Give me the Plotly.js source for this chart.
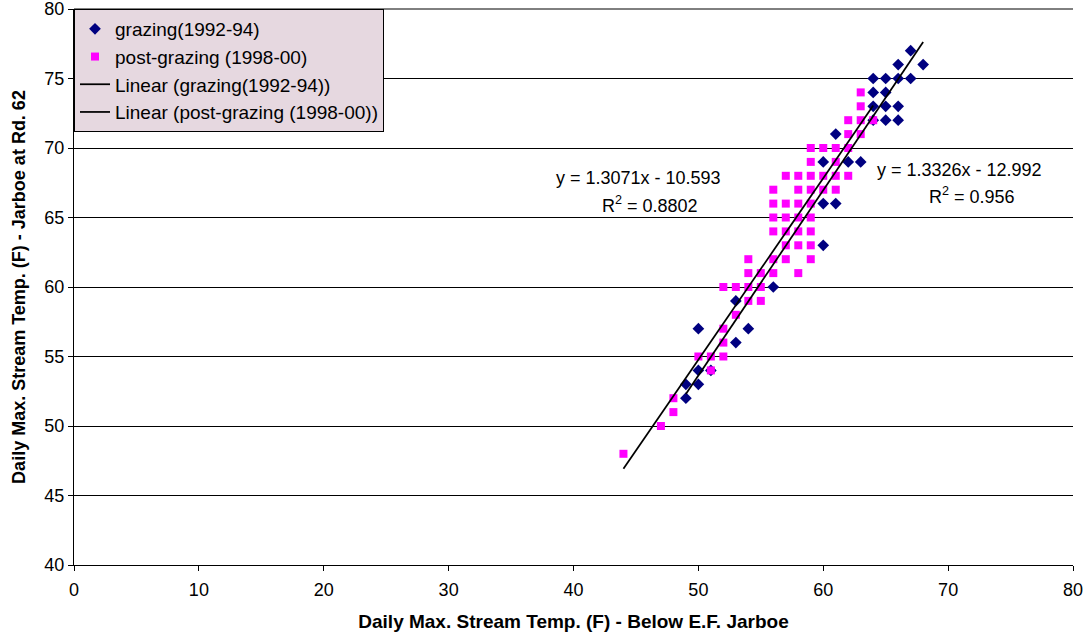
<!DOCTYPE html>
<html>
<head>
<meta charset="utf-8">
<script src="https://cdn.plot.ly/plotly-3.0.1.min.js"></script>
<style>html,body{margin:0;padding:0;background:#fff;}#chart{width:1083px;height:637px;}</style>
</head>
<body>
<div id="chart"></div>
<script>
// grazing (1992-94)
var grazingX = [49,49,50,50,50,51,53,53,54,56,60,60,61,60,62,63,61,64,65,66,64,65,66,64,65,64,65,66,67,66,68,67];
var grazingY = [52,53,53,54,57,54,56,59,57,60,63,66,66,69,69,69,71,72,72,72,73,73,73,74,74,75,75,75,75,76,76,77];
// post-grazing (1998-00)
var postX = [44,47,48,48,50,51,52,51,52,52,53,54,55,52,53,54,55,54,55,56,58,54,56,57,59,57,58,59,56,57,58,59,56,57,58,59,56,57,58,59,56,58,59,60,61,57,58,59,60,61,62,59,61,59,60,61,62,62,63,62,63,64,63,63];
var postY = [48,50,51,52,55,55,55,54,56,57,58,59,59,60,60,60,60,61,61,61,61,62,62,62,62,63,63,63,64,64,64,64,65,65,65,65,66,66,66,66,67,67,67,67,67,68,68,68,68,68,68,69,69,70,70,70,70,71,71,72,72,72,73,74];
// trendline coefficients (slope, intercept, R^2) as shown on the chart
var grazingFit = [1.3326, -12.992, 0.956];
var postFit = [1.3071, -10.593, 0.8802];
var names = ['grazing(1992-94)', 'post-grazing (1998-00)', 'Linear (grazing(1992-94))', 'Linear (post-grazing (1998-00))'];

function fitLine(xs, fit) {
  var lo = Math.min.apply(null, xs), hi = Math.max.apply(null, xs);
  return {x: [lo, hi], y: [fit[0]*lo + fit[1], fit[0]*hi + fit[1]]};
}
var gl = fitLine(grazingX, grazingFit), pl = fitLine(postX, postFit);

var FONT = 'Arial, "Liberation Sans", sans-serif';
var traces = [
  {x: grazingX, y: grazingY, mode: 'markers', type: 'scatter', name: names[0],
   marker: {symbol: 'diamond', color: '#000080', size: 9}},
  {x: postX, y: postY, mode: 'markers', type: 'scatter', name: names[1],
   marker: {symbol: 'square', color: '#FF00FF', size: 8}},
  {x: gl.x, y: gl.y, mode: 'lines', type: 'scatter', name: names[2],
   line: {color: '#000000', width: 1.75}},
  {x: pl.x, y: pl.y, mode: 'lines', type: 'scatter', name: names[3],
   line: {color: '#000000', width: 1.75}}
];

function eq(fit) {
  return 'y = ' + fit[0].toFixed(4) + 'x - ' + Math.abs(fit[1]).toFixed(3);
}

var layout = {
  width: 1083, height: 637,
  margin: {l: 74, r: 10, t: 9, b: 72},
  paper_bgcolor: '#ffffff', plot_bgcolor: '#ffffff',
  font: {family: FONT, size: 18, color: '#000'},
  showlegend: true,
  legend: {x: 0, y: 1, xanchor: 'left', yanchor: 'top', bgcolor: '#E6D8E0',
           bordercolor: '#000', borderwidth: 1, font: {family: FONT, size: 19, color: '#000'},
           tracegroupgap: 0},
  xaxis: {range: [0, 80], dtick: 10, tick0: 0, showgrid: false, zeroline: false,
          showline: true, linecolor: '#000', linewidth: 1, ticks: 'outside', ticklen: 5,
          tickcolor: '#000', tickfont: {family: FONT, size: 18}, ticklabelstandoff: 3,
          ticklabeloverflow: 'allow',
          title: {text: '<b>Daily Max. Stream Temp. (F) - Below E.F. Jarboe</b>', font: {family: FONT, size: 19}, standoff: 16}},
  yaxis: {range: [40, 80], dtick: 5, tick0: 40, showgrid: true, gridcolor: '#000', gridwidth: 1,
          zeroline: false, showline: true, linecolor: '#000', linewidth: 1, ticks: 'outside', ticklen: 5,
          tickcolor: '#000', tickfont: {family: FONT, size: 18}, ticklabeloverflow: 'allow',
          title: {text: '<b>Daily Max. Stream Temp. (F) - Jarboe at Rd. 62</b>', font: {family: FONT, size: 18}, standoff: 14}},
  shapes: [
    {type: 'line', xref: 'paper', yref: 'paper', x0: 0, x1: 1, y0: 1, y1: 1, line: {color: '#000', width: 1}, layer: 'below'}
  ],
  annotations: [
    {x: 45.2, y: 67.85, xref: 'x', yref: 'y', text: eq(postFit), showarrow: false, font: {family: FONT, size: 18}},
    {x: 46.1, y: 65.95, xref: 'x', yref: 'y', text: 'R<sup>2</sup> = ' + postFit[2], showarrow: false, font: {family: FONT, size: 18}},
    {x: 70.9, y: 68.45, xref: 'x', yref: 'y', text: eq(grazingFit), showarrow: false, font: {family: FONT, size: 18}},
    {x: 71.9, y: 66.6, xref: 'x', yref: 'y', text: 'R<sup>2</sup> = ' + grazingFit[2], showarrow: false, font: {family: FONT, size: 18}}
  ]
};

Plotly.newPlot('chart', traces, layout, {displayModeBar: false, staticPlot: true});
</script>
</body>
</html>
